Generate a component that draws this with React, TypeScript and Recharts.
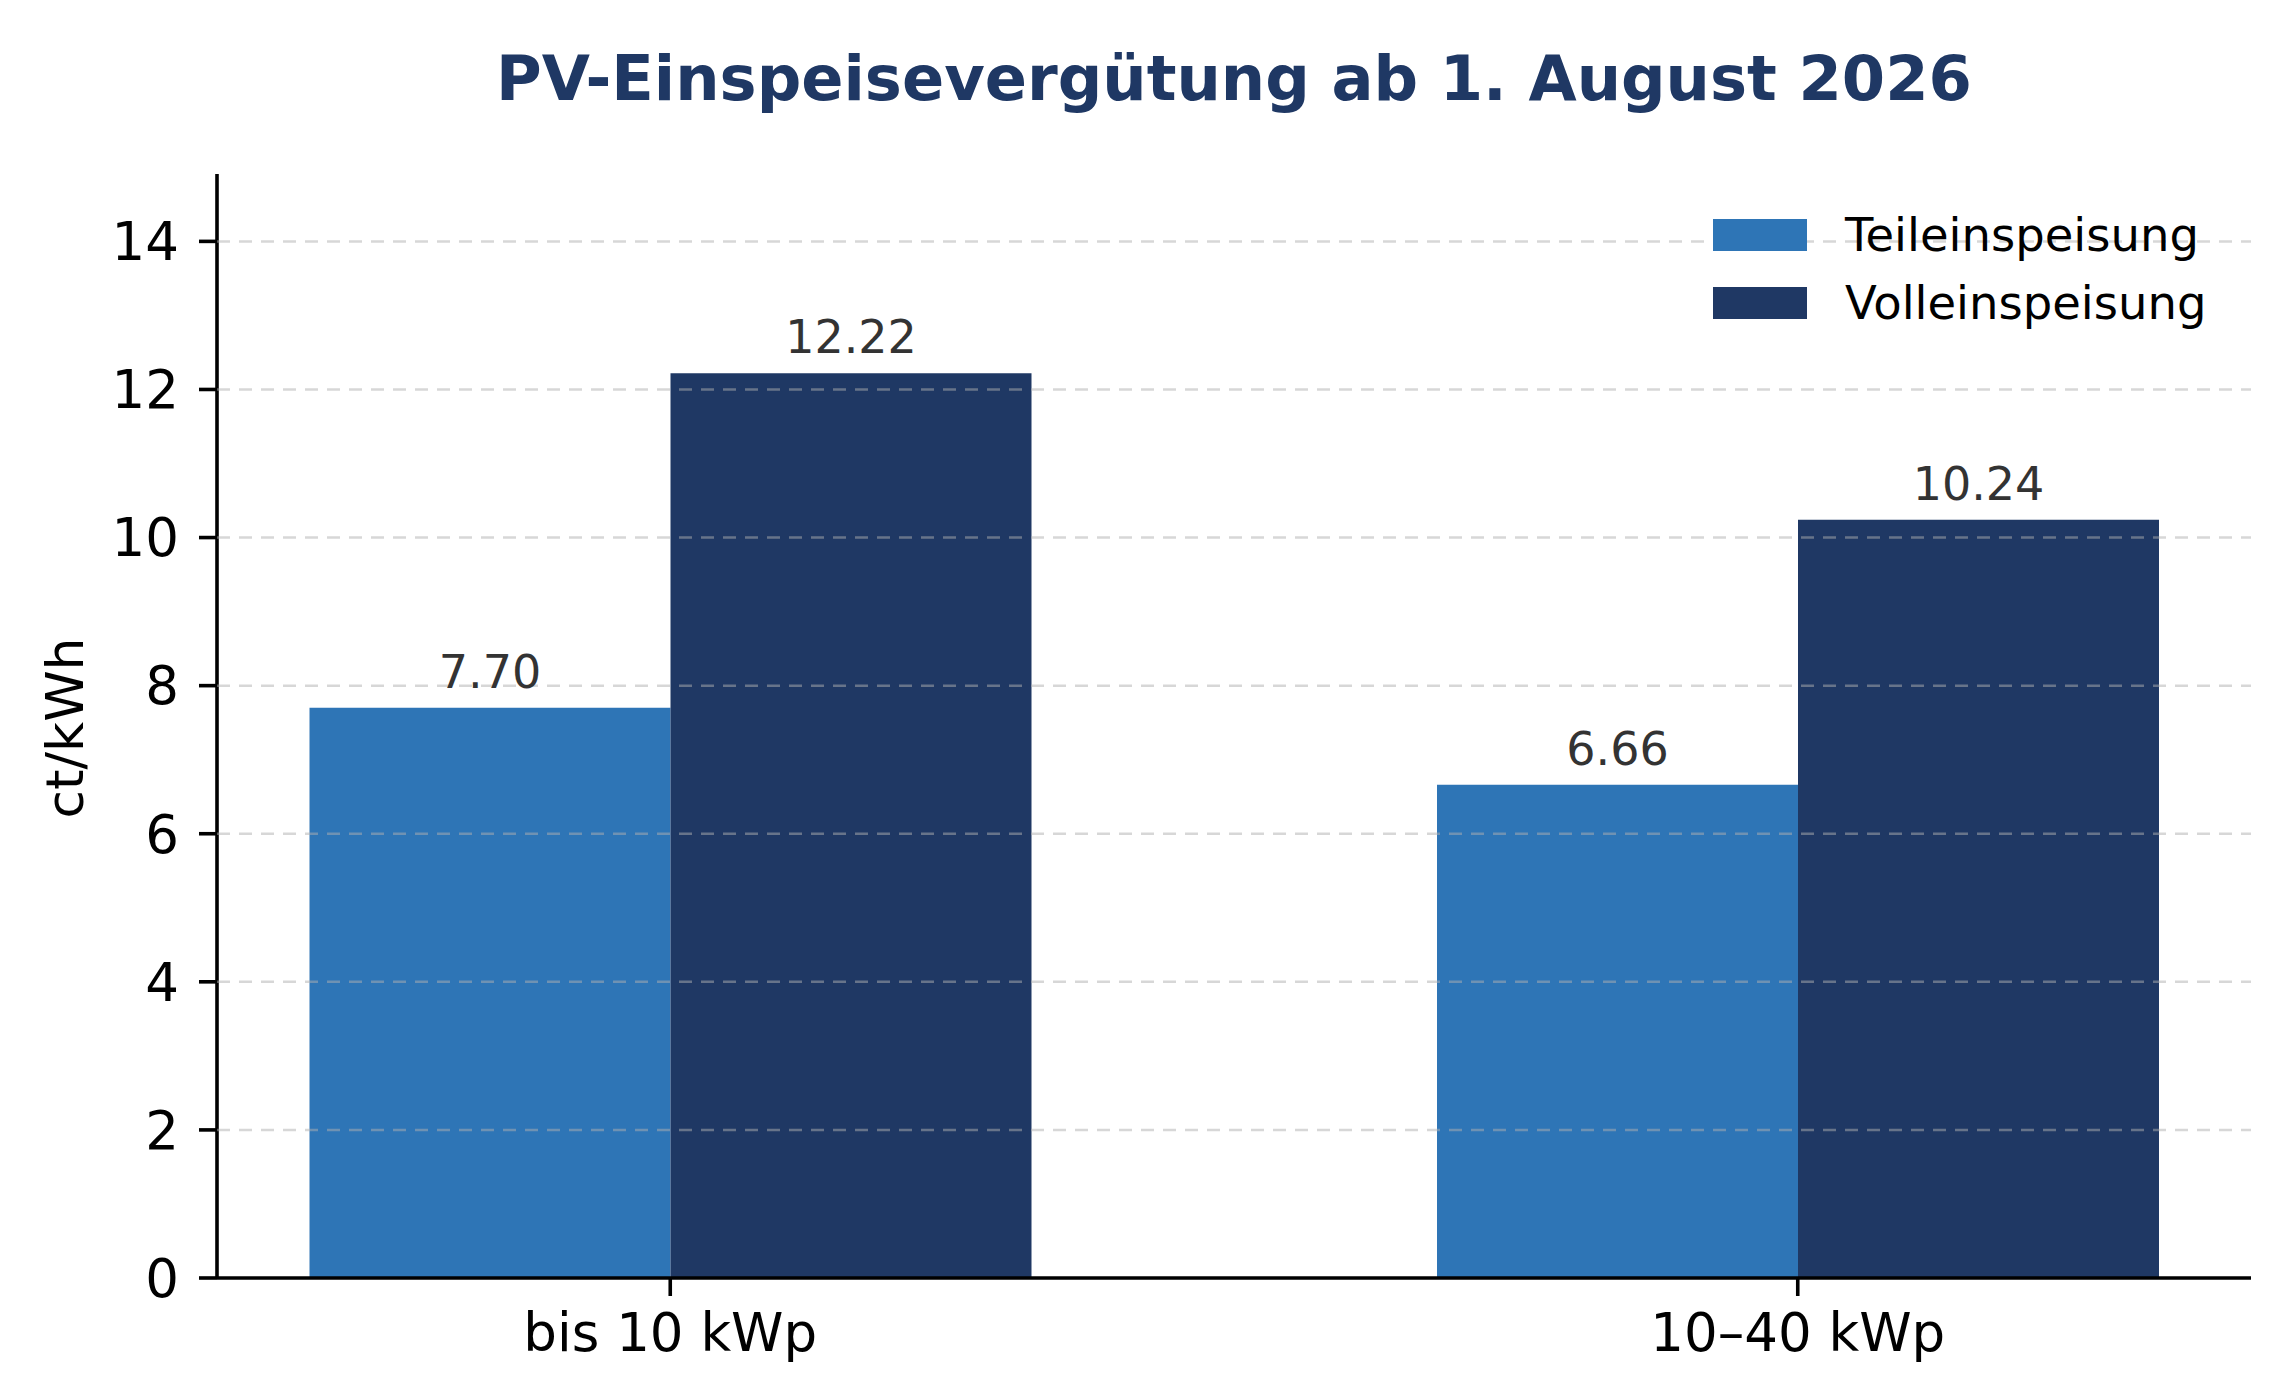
import React from 'react';
import { BarChart, Bar, XAxis, YAxis, CartesianGrid, LabelList, Legend, Label } from 'recharts';

const categories = ['bis 10 kWp', '10–40 kWp'];
const teileinspeisung = [7.7, 6.66];
const volleinspeisung = [12.22, 10.24];
const yTicks = [0, 2, 4, 6, 8, 10, 12, 14];
const seriesNames = ['Teileinspeisung', 'Volleinspeisung'];
const seriesColors = ['#2e75b6', '#1f3864'];
const title = 'PV-Einspeisevergütung ab 1. August 2026';
const yLabel = 'ct/kWh';

const data = categories.map((c, i) => ({
  name: c,
  teil: teileinspeisung[i],
  voll: volleinspeisung[i],
}));

const FONT = '"DejaVu Sans", Verdana, sans-serif';
const W = 2258;
const H = 1368;

const renderLegend = () => (
  <div style={{ fontFamily: FONT }}>
    {seriesNames.map((n, i) => (
      <div key={n} style={{ display: 'flex', alignItems: 'center', height: 68 }}>
        <div style={{ width: 94, height: 32, background: seriesColors[i], marginRight: 38 }} />
        <span style={{ fontSize: 46.5, color: '#000', lineHeight: '46px', whiteSpace: 'nowrap' }}>{n}</span>
      </div>
    ))}
  </div>
);

const fmt = (v: any) => Number(v).toFixed(2);

const gridGen = (props: any) => {
  const s = props?.yAxis?.scale;
  let f: any = null;
  if (typeof s === 'function') f = s;
  else if (s && typeof s.map === 'function') f = (v: number) => s.map(v);
  else if (s && typeof s.scale === 'function') f = (v: number) => s.scale(v);
  if (!f) return undefined as any;
  try {
    return yTicks.filter((t) => t > 0).map((t) => f(t));
  } catch (e) {
    return undefined as any;
  }
};

export default function App() {
  return (
    <div style={{ position: 'relative', width: W, height: H, background: '#fff' }}>
      <BarChart
        width={W}
        height={H}
        data={data}
        margin={{ top: 166, right: 15, bottom: 0, left: 0 }}
        barGap={0}
      >
        <XAxis
          dataKey="name"
          padding={{ left: -110.5, right: -110.5 }}
          axisLine={{ stroke: '#000', strokeWidth: 3.6 }}
          tickLine={{ stroke: '#000', strokeWidth: 3.6 }}
          tickSize={18}
          tickMargin={17}
          tick={{ fontSize: 53, fill: '#000', fontFamily: FONT }}
          height={98}
        />
        <YAxis
          domain={[0, 14.91]}
          ticks={yTicks}
          width={209}
          axisLine={{ stroke: '#000', strokeWidth: 3.6 }}
          tickLine={{ stroke: '#000', strokeWidth: 3.6 }}
          tickSize={18}
          tickMargin={20}
          tick={{ fontSize: 53, fill: '#000', fontFamily: FONT }}
          interval={0}
          allowDataOverflow
        >
          <Label
            content={(props: any) => {
              const vb = props.viewBox || { y: 166, height: 1104 };
              const cy = vb.y + vb.height / 2 + 2;
              return (
                <text
                  x={75}
                  y={cy}
                  transform={`rotate(-90, 75, ${cy})`}
                  textAnchor="middle"
                  fontSize={52}
                  fontFamily={FONT}
                  fill="#000"
                >
                  {yLabel}
                </text>
              );
            }}
          />
        </YAxis>
        <Bar dataKey="teil" name={seriesNames[0]} fill={seriesColors[0]} barSize={361} isAnimationActive={false}>
          <LabelList
            dataKey="teil"
            position="top"
            offset={20}
            formatter={fmt}
            style={{ fontSize: 46, fill: '#333333', fontFamily: FONT }}
          />
        </Bar>
        <Bar dataKey="voll" name={seriesNames[1]} fill={seriesColors[1]} barSize={361} isAnimationActive={false}>
          <LabelList
            dataKey="voll"
            position="top"
            offset={20}
            formatter={fmt}
            style={{ fontSize: 46, fill: '#333333', fontFamily: FONT }}
          />
        </Bar>
        <CartesianGrid
          vertical={false}
          horizontal
          horizontalCoordinatesGenerator={gridGen}
          stroke="#b0b0b0"
          strokeOpacity={0.5}
          strokeWidth={2.5}
          strokeDasharray="13 9"
          zIndex={500}
        />
        <Legend
          layout="vertical"
          align="center"
          verticalAlign="middle"
          content={renderLegend}
          wrapperStyle={{ left: 1705, top: 193, width: 520, height: 136 }}
        />
      </BarChart>
      <svg
        width={W}
        height={140}
        style={{ position: 'absolute', left: 0, top: 0, pointerEvents: 'none' }}
      >
        <text
          x={1226}
          y={92}
          textAnchor="middle"
          fontSize={62.3}
          fontWeight="bold"
          fontFamily={FONT}
          fill="#1f3864"
        >
          {title}
        </text>
      </svg>
    </div>
  );
}
